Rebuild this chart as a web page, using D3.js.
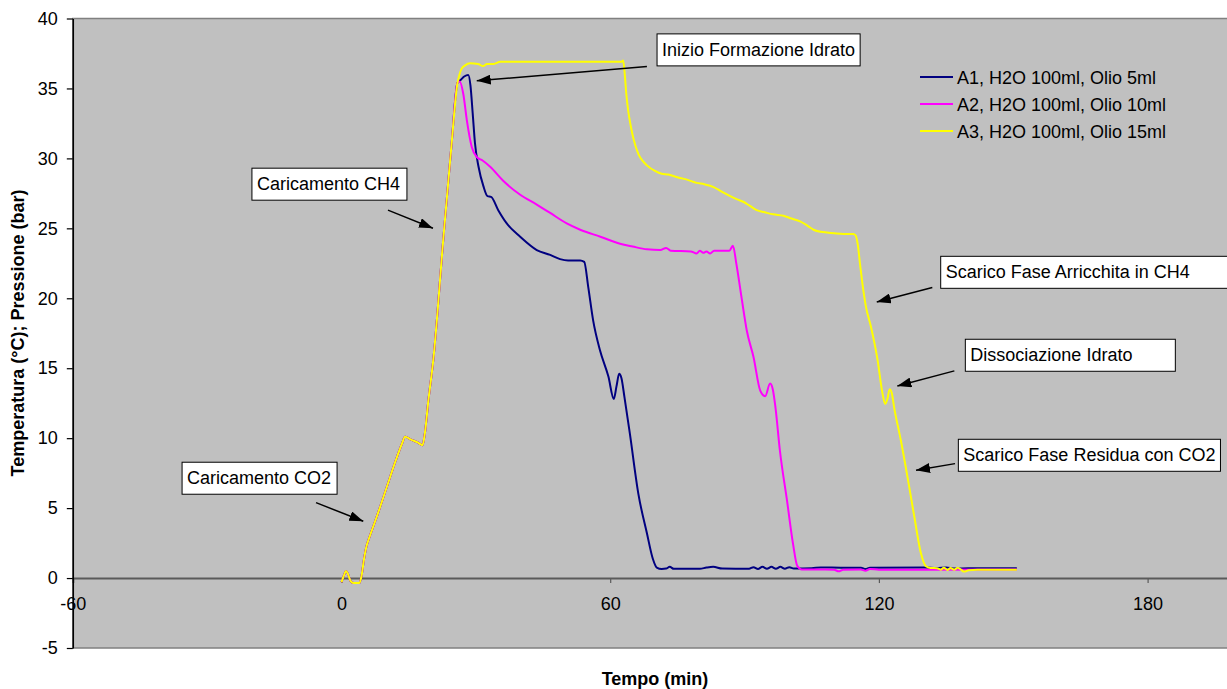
<!DOCTYPE html>
<html>
<head>
<meta charset="utf-8">
<script src="https://cdn.jsdelivr.net/npm/d3@7"></script>
<style>
  body { margin: 0; background: #fff; }
  svg { display: block; }
  text { font-family: "Liberation Sans", Arial, sans-serif; fill: #000; }
</style>
</head>
<body>
<svg id="chart" width="1227" height="689"></svg>
<script>
// ---- data: time (min) vs temperature / pressure ----
// shared loading phase (CO2 then CH4), identical for the three runs
const loading = [
  [0, -0.3], [0.5, 0.15], [1, 0.5], [1.5, 0.25], [2, -0.2], [2.7, -0.35], [4, -0.35],
  [4.5, 0.2], [5, 1.3], [5.6, 2.3], [6, 2.7], [8, 4.5], [10, 6.4], [12, 8.3],
  [13.5, 9.6], [14.2, 10.1], [15.5, 9.9], [17, 9.7], [18.1, 9.5], [18.6, 10.3],
  [19.4, 12.7], [20.5, 15.6], [22.7, 24.1], [24.6, 31.1], [25.9, 35.4]
];

const tailA1 = [
  [26.6, 35.6], [27.4, 35.85], [28.3, 35.96], [28.8, 35.2], [29.3, 33.2], [29.8, 31.1],
  [30.6, 29.4], [31.7, 28.0], [32.6, 27.3], [33.4, 27.25], [35, 26.3], [36.9, 25.35],
  [39.9, 24.4], [43.6, 23.45], [46.6, 23.1], [48.8, 22.8], [50.6, 22.7], [53.3, 22.7],
  [54.2, 22.6], [55.1, 20.8], [56.2, 18.4], [57.7, 16.3], [59.6, 14.4], [60.8, 12.8],
  [61.4, 13.7], [62.0, 14.6], [62.5, 14.3], [63.2, 12.9], [64.4, 10.3], [66.3, 6.0],
  [68.2, 3.2], [69.5, 1.4], [70.4, 0.75], [71.5, 0.65], [72.5, 0.68], [73.3, 0.8],
  [74.2, 0.66], [80, 0.66], [81.5, 0.75], [83, 0.8], [85, 0.68], [91, 0.66], [92, 0.78],
  [93, 0.65], [94, 0.8], [95, 0.66], [96, 0.8], [97, 0.66], [98, 0.8], [99, 0.66],
  [100, 0.78], [101, 0.68], [105, 0.7], [107, 0.76], [112, 0.74], [116, 0.74], [117, 0.64],
  [118, 0.74], [130, 0.76], [133, 0.72], [135, 0.76], [137, 0.68], [140, 0.7], [150.8, 0.7]
];

const tailA2 = [
  [26.4, 35.5], [27.2, 34.6], [28, 32.7], [29.1, 30.8], [30.2, 30.1], [31.5, 29.85],
  [33.2, 29.4], [36.1, 28.4], [39.9, 27.4], [43.6, 26.7], [46.6, 26.1], [50.3, 25.35],
  [53.3, 24.9], [57.8, 24.4], [62.2, 23.9], [65, 23.7], [68.2, 23.5], [71.2, 23.45],
  [72.5, 23.6], [73.5, 23.4], [78, 23.35], [79.3, 23.2], [80, 23.4], [80.8, 23.25],
  [81.5, 23.35], [82.3, 23.2], [83.2, 23.4], [86.6, 23.4], [87.4, 23.75], [88.2, 22.4],
  [89.4, 19.9], [90.5, 17.7], [92, 15.8], [93.5, 13.4], [94.6, 13.0], [95.7, 13.9],
  [96.3, 13.5], [96.9, 12.2], [97.9, 9.1], [99.5, 5.5], [100.8, 2.5], [101.8, 0.85],
  [102.8, 0.62], [108, 0.62], [110, 0.6], [111, 0.48], [112, 0.6], [116, 0.62],
  [117, 0.52], [118, 0.65], [120, 0.6], [130, 0.6], [150.8, 0.62]
];

const tailA3 = [
  [26.3, 35.95], [26.8, 36.4], [27.6, 36.65], [28.7, 36.8], [30.5, 36.75], [31.6, 36.6],
  [32.5, 36.75], [34, 36.75], [35.4, 36.9], [50, 36.9], [62.5, 36.9], [62.9, 37.0],
  [63.2, 36.2], [63.6, 34.6], [64.0, 33.45], [64.6, 32.3], [65.2, 31.4], [66.3, 30.3],
  [67.3, 29.8], [68.2, 29.5], [70, 29.1], [71.5, 28.9], [73, 28.85], [74.5, 28.7],
  [75.6, 28.6], [77, 28.5], [79.3, 28.25], [81, 28.15], [83.1, 27.95], [85, 27.6],
  [86.8, 27.3], [88.5, 27.05], [89.7, 26.9], [91.2, 26.6], [92.7, 26.3], [94.5, 26.15],
  [96.4, 26.0], [98.7, 25.9], [100.5, 25.7], [102.4, 25.5], [104, 25.2], [105.4, 24.9],
  [107, 24.75], [108.4, 24.7], [110, 24.65], [112.1, 24.6], [114.3, 24.6], [114.8, 24.5],
  [115.3, 23.8], [115.8, 22.4], [116.3, 21.1], [117.1, 19.4], [118.2, 18.0], [119.7, 15.6],
  [120.8, 13.2], [121.4, 12.45], [121.9, 12.8], [122.4, 13.5], [122.9, 13.2], [123.4, 12.2],
  [124.9, 9.85], [126.4, 7.2], [127.9, 4.4], [129.4, 1.75], [130.5, 0.84], [131.5, 0.72],
  [133, 0.7], [133.8, 0.6], [134.5, 0.74], [135.3, 0.58], [136, 0.72], [136.8, 0.6],
  [137.6, 0.74], [138.4, 0.58], [139, 0.46], [140, 0.55], [142, 0.6], [150.8, 0.6]
];

const seriesNames = ["A1, H2O 100ml, Olio 5ml", "A2, H2O 100ml, Olio 10ml", "A3, H2O 100ml, Olio 15ml"];
const seriesValues = [loading.concat(tailA1), loading.concat(tailA2), loading.concat(tailA3)];
const seriesColors = ["#000080", "#FF00FF", "#FFFF00"];

const xTicks = [-60, 0, 60, 120, 180];
const yTicks = [-5, 0, 5, 10, 15, 20, 25, 30, 35, 40];

// annotation labels: box corner and arrow from/to, in data units (min, value)
const noteLabels = ["Inizio Formazione Idrato", "Caricamento CH4", "Caricamento CO2",
  "Scarico Fase Arricchita in CH4", "Dissociazione Idrato", "Scarico Fase Residua con CO2"];
const noteBoxes = [[70.46, 38.9], [-20.0, 29.3], [-35.6, 8.28], [133.8, 23.0], [139.3, 17.07], [137.74, 9.92]];
const noteFrom = [[68.2, 36.57], [10.38, 26.3], [-5.69, 5.39], [131.93, 20.77], [136.85, 14.81], [137.0, 8.18]];
const noteTo = [[30.2, 35.55], [20.43, 25.01], [4.87, 4.06], [119.52, 19.74], [124.12, 13.73], [128.29, 7.7]];

// ---- layout ----
const plot = { left: 72.8, top: 18.5, bottom: 648, right: 1416.3 };
const fontSize = "18px";
const noteMinWidth = [0, 155, 155, 292, 210, 0];   // text boxes sized wider than their text
const svg = d3.select("#chart");

const x = d3.scaleLinear().domain([-60, 240]).range([plot.left, plot.right]);
const y = d3.scaleLinear().domain([-5, 40]).range([plot.bottom, plot.top]);
const plainNumber = d => String(d);

svg.append("defs").append("marker")
  .attr("id", "arrowhead")
  .attr("viewBox", "0 0 14 10")
  .attr("refX", 14).attr("refY", 5)
  .attr("markerWidth", 14).attr("markerHeight", 10)
  .attr("markerUnits", "userSpaceOnUse")
  .attr("orient", "auto")
  .append("path").attr("d", "M0,0 L14,5 L0,10 Z").attr("fill", "#000");

// plot area
svg.append("rect")
  .attr("x", plot.left).attr("y", plot.top)
  .attr("width", plot.right - plot.left).attr("height", plot.bottom - plot.top)
  .attr("fill", "#C0C0C0").attr("stroke", "#808080").attr("stroke-width", 1.5);

// x axis sits on the zero line
const xAxis = svg.append("g")
  .attr("transform", `translate(0,${y(0)})`)
  .call(d3.axisBottom(x).tickValues(xTicks).tickSize(5).tickFormat(plainNumber));
xAxis.select(".domain").attr("stroke", "#5a5a5a").attr("stroke-width", 2);
xAxis.selectAll(".tick line").attr("stroke", "#5a5a5a").attr("stroke-width", 1.2);
xAxis.selectAll(".tick text")
  .attr("y", 32).attr("dy", 0)
  .style("font-size", fontSize).style("font-family", '"Liberation Sans", Arial, sans-serif');

// y axis
const yAxis = svg.append("g")
  .attr("transform", `translate(${plot.left},0)`)
  .call(d3.axisLeft(y).tickValues(yTicks).tickSize(6).tickSizeOuter(0).tickFormat(plainNumber));
yAxis.select(".domain").attr("stroke", "#000").attr("stroke-width", 1.5);
yAxis.selectAll(".tick line").attr("stroke", "#000").attr("stroke-width", 1.2);
yAxis.selectAll(".tick text")
  .attr("x", -15)
  .style("font-size", fontSize).style("font-family", '"Liberation Sans", Arial, sans-serif');

// axis titles
svg.append("text")
  .attr("x", 655).attr("y", 685)
  .attr("text-anchor", "middle")
  .style("font-size", fontSize).style("font-weight", "bold")
  .text("Tempo (min)");
svg.append("text")
  .attr("transform", `translate(24,333) rotate(-90)`)
  .attr("text-anchor", "middle")
  .style("font-size", fontSize).style("font-weight", "bold")
  .text("Temperatura (°C); Pressione (bar)");

// series
const line = d3.line()
  .x(d => x(d[0])).y(d => y(d[1]))
  .curve(d3.curveMonotoneX);

svg.append("g").selectAll("path")
  .data(seriesValues)
  .join("path")
  .attr("d", line)
  .attr("fill", "none")
  .attr("stroke", (d, i) => seriesColors[i])
  .attr("stroke-width", 2)
  .attr("stroke-linejoin", "round");

// legend
const legend = svg.append("g").attr("transform", "translate(920,77)");
seriesNames.forEach((name, i) => {
  const row = legend.append("g").attr("transform", `translate(0,${i * 27})`);
  row.append("line").attr("x1", 0).attr("x2", 33).attr("y1", 0).attr("y2", 0)
    .attr("stroke", seriesColors[i]).attr("stroke-width", 2);
  row.append("text").attr("x", 37).attr("y", 6.5)
    .style("font-size", fontSize).text(name);
});

// annotations: arrow then boxed label
const notes = svg.append("g");
noteLabels.forEach((label, i) => {
  notes.append("line")
    .attr("x1", x(noteFrom[i][0])).attr("y1", y(noteFrom[i][1]))
    .attr("x2", x(noteTo[i][0])).attr("y2", y(noteTo[i][1]))
    .attr("stroke", "#000").attr("stroke-width", 1.5)
    .attr("marker-end", "url(#arrowhead)");
  const bx = x(noteBoxes[i][0]);
  const by = y(noteBoxes[i][1]);
  const g = notes.append("g").attr("transform", `translate(${bx},${by})`);
  const rect = g.append("rect").attr("fill", "#fff").attr("stroke", "#000").attr("stroke-width", 1);
  const t = g.append("text").attr("x", 5).attr("y", 22).style("font-size", fontSize).text(label);
  const w = Math.max(t.node().getComputedTextLength() + 10, noteMinWidth[i]);
  rect.attr("x", 0).attr("y", 0).attr("width", w).attr("height", 32);
});
</script>
</body>
</html>
